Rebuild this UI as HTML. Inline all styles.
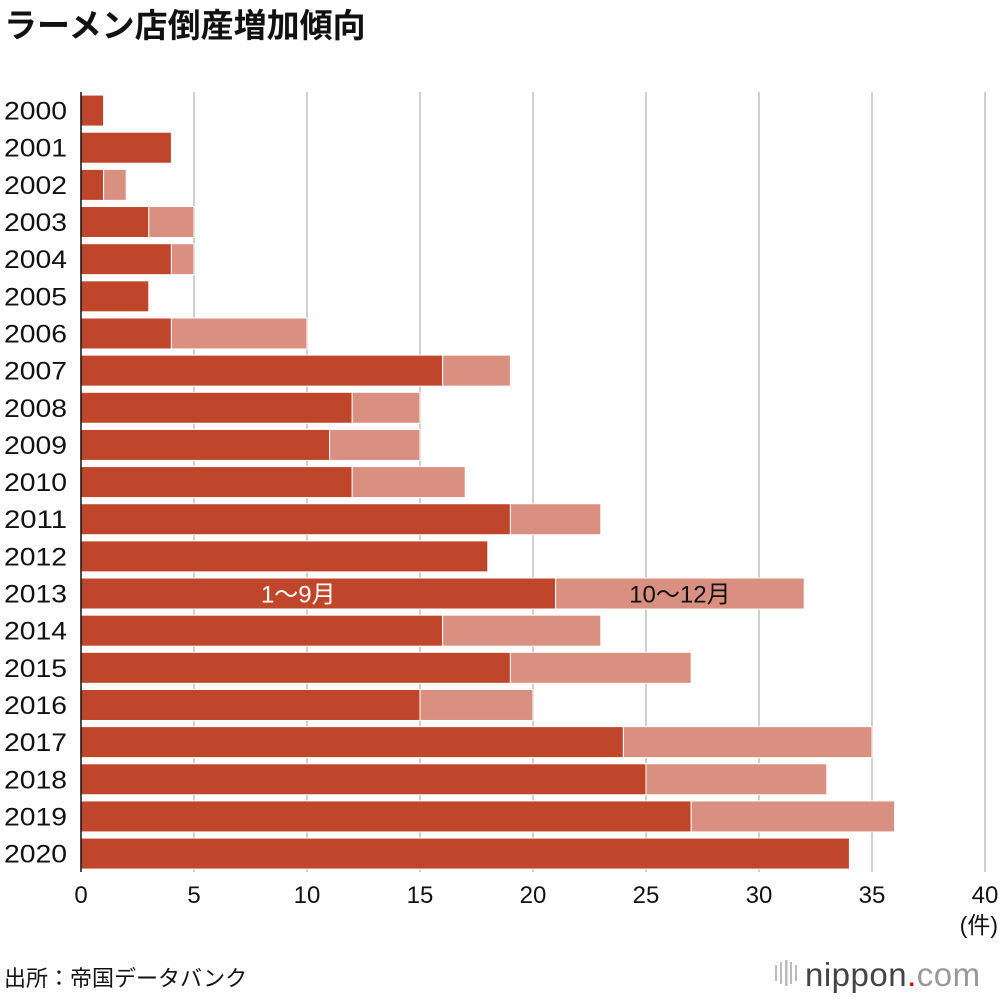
<!DOCTYPE html>
<html><head><meta charset="utf-8">
<style>
body{margin:0;background:#fff;}
svg text{font-family:"Liberation Sans","Noto Sans CJK JP",sans-serif;}
</style></head>
<body>
<svg id="chart" width="1000" height="996" xmlns="http://www.w3.org/2000/svg">
<text x="4" y="37" font-size="33" font-weight="bold" fill="#111">ラーメン店倒産増加傾向</text>
<g id="grid"></g>
<g id="bars"></g>
<g id="labels"></g>
<line x1="81" y1="92" x2="81" y2="872" stroke="#111" stroke-width="1.5"/>
<text x="998" y="933" font-size="23" text-anchor="end" fill="#111">(件)</text>
<text x="4" y="986" font-size="22" fill="#111">出所：帝国データバンク</text>
<g>
<g fill="#bbb"><rect x="775" y="965" width="2" height="16"/><rect x="780" y="962" width="2" height="22"/><rect x="785" y="960" width="2.5" height="26"/><rect x="790" y="962" width="2" height="22"/><rect x="795" y="965" width="2" height="16"/></g>
<text x="805" y="986" font-size="33" fill="#444" letter-spacing="0.5">nippon<tspan fill="#d00">.</tspan><tspan fill="#999">com</tspan></text>
</g>
</svg>
<script>
const years=["2000","2001","2002","2003","2004","2005","2006","2007","2008","2009","2010","2011","2012","2013","2014","2015","2016","2017","2018","2019","2020"];
const janSep=[1,4,1,3,4,3,4,16,12,11,12,19,18,21,16,19,15,24,25,27,34];
const octDec=[0,0,1,2,1,0,6,3,3,4,5,4,0,11,7,8,5,11,8,9,0];
const ticks=[0,5,10,15,20,25,30,35,40];
const NS="http://www.w3.org/2000/svg";
const x0=81,x1=985,xmax=40;
const xs=v=>x0+(x1-x0)*v/xmax;
const rowTop=92,rowH=37.15,barH=31;
const yc=i=>rowTop+rowH*(i+0.5);
function mk(tag,attrs,parent){const e=document.createElementNS(NS,tag);for(const k in attrs)e.setAttribute(k,attrs[k]);parent.appendChild(e);return e;}
const grid=document.getElementById('grid'),bars=document.getElementById('bars'),labels=document.getElementById('labels');
ticks.forEach(t=>{
  if(t>0){const l=mk('line',{x1:xs(t),x2:xs(t),y1:92,y2:872,stroke:'#d0d0d0','stroke-width':2},grid);
  
  }
  const tx=mk('text',{x:xs(t),y:903,'font-size':24,'text-anchor':'middle',fill:'#111'},labels);
  tx.textContent=t;
  
  
});
years.forEach((y,i)=>{
  const a=janSep[i],b=octDec[i];
  const r1=mk('rect',{x:xs(0),y:yc(i)-barH/2,width:xs(a)-xs(0),height:barH,fill:'#c0462b',stroke:'#fff','stroke-width':1},bars);
  
  
  if(b>0){const r2=mk('rect',{x:xs(a),y:yc(i)-barH/2,width:xs(a+b)-xs(a),height:barH,fill:'#da9080',stroke:'#fff','stroke-width':1},bars);
  
  }
  const t=mk('text',{x:4,y:yc(i)+9,'font-size':25,fill:'#111',textLength:63,lengthAdjust:'spacingAndGlyphs'},labels);
  t.textContent=y;
  
  
});
const li=years.indexOf("2013");
const l1=mk('text',{x:(xs(0)+xs(janSep[li]))/2-20,y:yc(li)+9,'font-size':24,fill:'#fff','text-anchor':'middle'},labels);
l1.textContent="1〜9月";


const l2=mk('text',{x:(xs(janSep[li])+xs(janSep[li]+octDec[li]))/2,y:yc(li)+9,'font-size':24,fill:'#111','text-anchor':'middle'},labels);
l2.textContent="10〜12月";


</script>
</body></html>
